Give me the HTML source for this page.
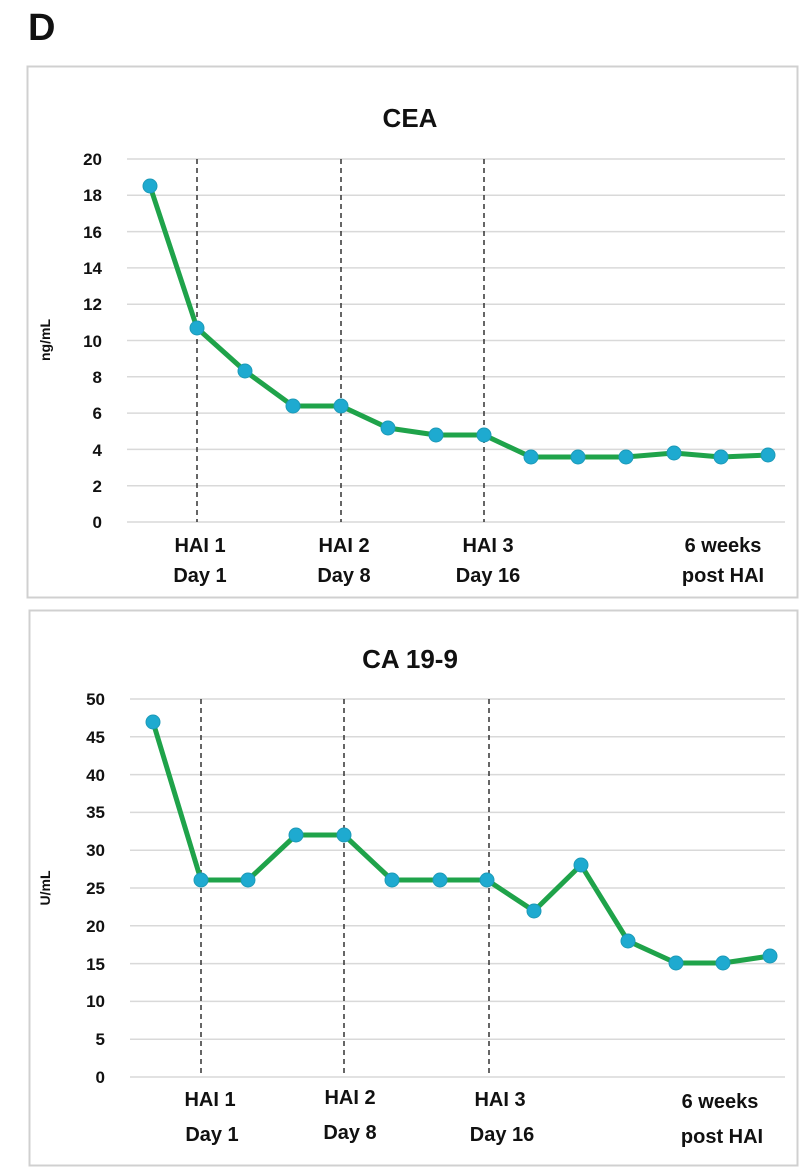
<!DOCTYPE html>
<html><head><style>
body{margin:0;background:#fff;}
svg text{font-family:"Liberation Sans",Arial,sans-serif;font-weight:bold;fill:#111;}
</style></head><body>
<svg width="800" height="1169" viewBox="0 0 800 1169" xmlns="http://www.w3.org/2000/svg">
<text x="28" y="40" font-size="38">D</text>
<rect x="27.5" y="66.5" width="770" height="531" fill="none" stroke="#d0d0d0" stroke-width="2"/>
<rect x="29.5" y="610.5" width="768" height="555" fill="none" stroke="#d0d0d0" stroke-width="2"/>
<text x="410" y="127" font-size="26" text-anchor="middle">CEA</text>
<g stroke="#d9d9d9" stroke-width="1.5">
<line x1="127" x2="785" y1="159" y2="159"/><line x1="127" x2="785" y1="195.3" y2="195.3"/>
<line x1="127" x2="785" y1="231.6" y2="231.6"/><line x1="127" x2="785" y1="267.9" y2="267.9"/>
<line x1="127" x2="785" y1="304.2" y2="304.2"/><line x1="127" x2="785" y1="340.5" y2="340.5"/>
<line x1="127" x2="785" y1="376.8" y2="376.8"/><line x1="127" x2="785" y1="413.1" y2="413.1"/>
<line x1="127" x2="785" y1="449.4" y2="449.4"/><line x1="127" x2="785" y1="485.7" y2="485.7"/>
<line x1="127" x2="785" y1="522" y2="522"/>
</g>
<g font-size="17" text-anchor="end">
<text x="102" y="165">20</text><text x="102" y="201">18</text><text x="102" y="238">16</text>
<text x="102" y="274">14</text><text x="102" y="310">12</text><text x="102" y="347">10</text>
<text x="102" y="383">8</text><text x="102" y="419">6</text><text x="102" y="456">4</text>
<text x="102" y="492">2</text><text x="102" y="528">0</text>
</g>
<text transform="translate(50,340) rotate(-90)" font-size="14" text-anchor="middle">ng/mL</text>
<g stroke="#333" stroke-width="1.5" stroke-dasharray="5,4">
<line x1="197" x2="197" y1="159" y2="522"/><line x1="341" x2="341" y1="159" y2="522"/><line x1="484" x2="484" y1="159" y2="522"/>
</g>
<polyline fill="none" stroke="#1fa34a" stroke-width="5" stroke-linejoin="round" points="150,186 197,328 245,371 293,406 341,406 388,428 436,435 484,435 531,457 578,457 626,457 674,453 721,457 768,455"/>
<g fill="#1eaad0" stroke="#1c9ab8" stroke-width="1">
<circle cx="150" cy="186" r="7"/><circle cx="197" cy="328" r="7"/><circle cx="245" cy="371" r="7"/><circle cx="293" cy="406" r="7"/><circle cx="341" cy="406" r="7"/><circle cx="388" cy="428" r="7"/><circle cx="436" cy="435" r="7"/><circle cx="484" cy="435" r="7"/><circle cx="531" cy="457" r="7"/><circle cx="578" cy="457" r="7"/><circle cx="626" cy="457" r="7"/><circle cx="674" cy="453" r="7"/><circle cx="721" cy="457" r="7"/><circle cx="768" cy="455" r="7"/>
</g>
<g font-size="20" text-anchor="middle">
<text x="200" y="552">HAI 1</text><text x="200" y="582">Day 1</text>
<text x="344" y="552">HAI 2</text><text x="344" y="582">Day 8</text>
<text x="488" y="552">HAI  3</text><text x="488" y="582">Day 16</text>
<text x="723" y="552">6 weeks</text><text x="723" y="582">post HAI</text>
</g>

<text x="410" y="668" font-size="26" text-anchor="middle">CA 19-9</text>
<g stroke="#d9d9d9" stroke-width="1.5">
<line x1="130" x2="785" y1="699" y2="699"/><line x1="130" x2="785" y1="736.8" y2="736.8"/>
<line x1="130" x2="785" y1="774.6" y2="774.6"/><line x1="130" x2="785" y1="812.4" y2="812.4"/>
<line x1="130" x2="785" y1="850.2" y2="850.2"/><line x1="130" x2="785" y1="888" y2="888"/>
<line x1="130" x2="785" y1="925.8" y2="925.8"/><line x1="130" x2="785" y1="963.6" y2="963.6"/>
<line x1="130" x2="785" y1="1001.4" y2="1001.4"/><line x1="130" x2="785" y1="1039.2" y2="1039.2"/>
<line x1="130" x2="785" y1="1077" y2="1077"/>
</g>
<g font-size="17" text-anchor="end">
<text x="105" y="705">50</text><text x="105" y="743">45</text><text x="105" y="781">40</text>
<text x="105" y="818">35</text><text x="105" y="856">30</text><text x="105" y="894">25</text>
<text x="105" y="932">20</text><text x="105" y="970">15</text><text x="105" y="1007">10</text>
<text x="105" y="1045">5</text><text x="105" y="1083">0</text>
</g>
<text transform="translate(50,888) rotate(-90)" font-size="14" text-anchor="middle">U/mL</text>
<g stroke="#333" stroke-width="1.5" stroke-dasharray="5,4">
<line x1="201" x2="201" y1="699" y2="1077"/><line x1="344" x2="344" y1="699" y2="1077"/><line x1="489" x2="489" y1="699" y2="1077"/>
</g>
<polyline fill="none" stroke="#1fa34a" stroke-width="5" stroke-linejoin="round" points="153,722 201,880 248,880 296,835 344,835 392,880 440,880 487,880 534,911 581,865 628,941 676,963 723,963 770,956"/>
<g fill="#1eaad0" stroke="#1c9ab8" stroke-width="1">
<circle cx="153" cy="722" r="7"/><circle cx="201" cy="880" r="7"/><circle cx="248" cy="880" r="7"/><circle cx="296" cy="835" r="7"/><circle cx="344" cy="835" r="7"/><circle cx="392" cy="880" r="7"/><circle cx="440" cy="880" r="7"/><circle cx="487" cy="880" r="7"/><circle cx="534" cy="911" r="7"/><circle cx="581" cy="865" r="7"/><circle cx="628" cy="941" r="7"/><circle cx="676" cy="963" r="7"/><circle cx="723" cy="963" r="7"/><circle cx="770" cy="956" r="7"/>
</g>
<g font-size="20" text-anchor="middle">
<text x="210" y="1106">HAI 1</text><text x="212" y="1141">Day 1</text>
<text x="350" y="1104">HAI 2</text><text x="350" y="1139">Day 8</text>
<text x="500" y="1106">HAI 3</text><text x="502" y="1141">Day 16</text>
<text x="720" y="1108">6 weeks</text><text x="722" y="1143">post HAI</text>
</g>
</svg>
</body></html>
